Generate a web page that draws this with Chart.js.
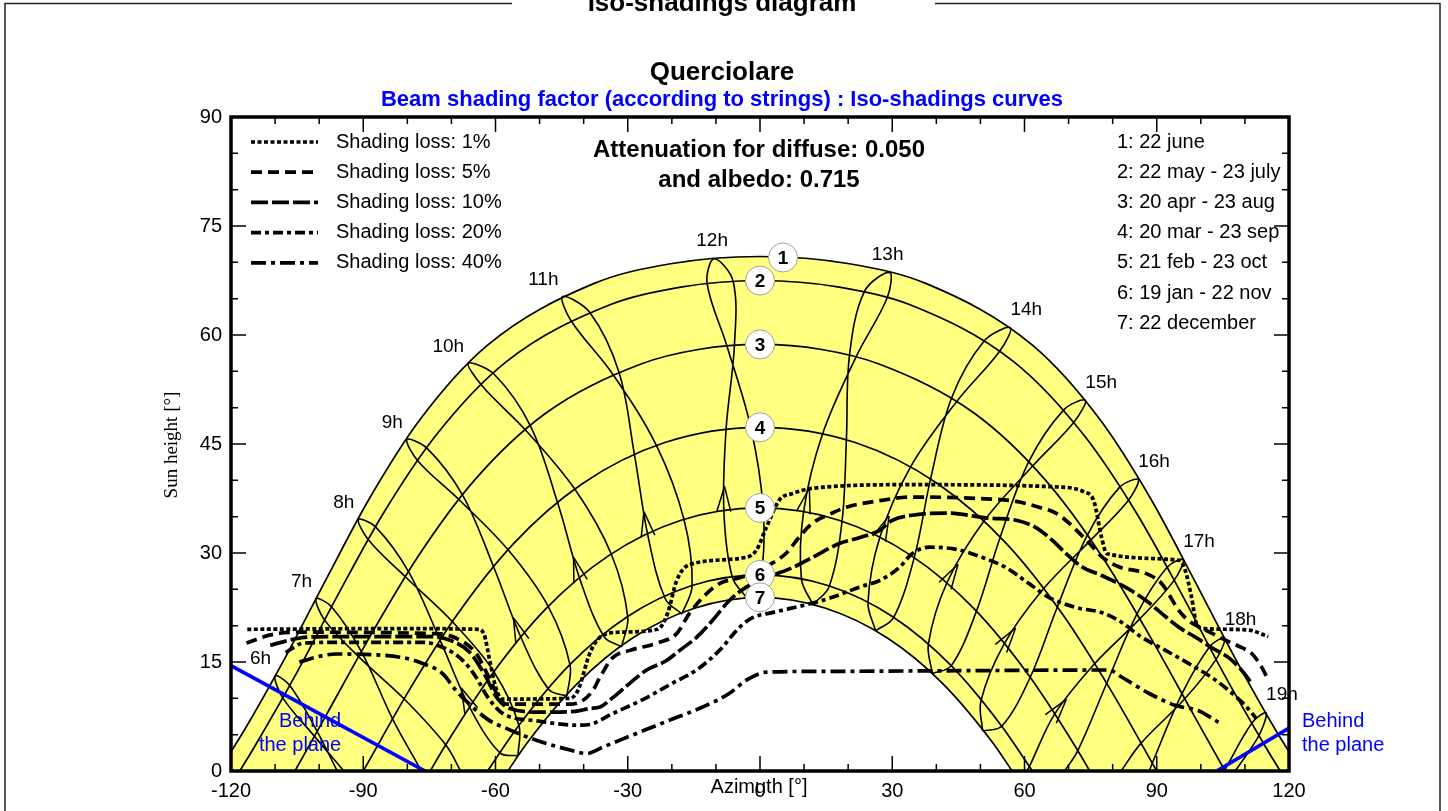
<!DOCTYPE html>
<html>
<head>
<meta charset="utf-8">
<title>Iso-shadings diagram</title>
<script src="https://cdn.jsdelivr.net/npm/chart.js@4.4.1/dist/chart.umd.min.js"></script>
<style>
  html, body { margin: 0; padding: 0; background: #ffffff; }
  canvas { display: block; }
</style>
</head>
<body>
<canvas id="chart" width="1448" height="811"></canvas>
<script>
// ---- Sun paths for the reference dates: [azimuth °, sun height °] ----
const sunJun22 = [[-122.8,0],[-117.1,5.5],[-107.7,15.6],[-98.4,26.4],[-88.7,37.4],[-77.2,48.3],[-61.8,58.6],[-37.6,67.1],[-20.3,69.8],[0,70.8],[20.3,69.8],[37.6,67.1],[61.8,58.6],[77.2,48.3],[88.7,37.4],[98.4,26.4],[107.7,15.6],[117.1,5.5],[122.8,0]];
const sunMay22Jul23 = [[-118.0,0],[-114.8,3.2],[-105.1,13.5],[-95.6,24.4],[-85.5,35.4],[-73.5,46.2],[-57.6,56.3],[-33.9,64.2],[-18.0,66.6],[0,67.5],[18.0,66.6],[33.9,64.2],[57.6,56.3],[73.5,46.2],[85.5,35.4],[95.6,24.4],[105.1,13.5],[114.8,3.2],[118.0,0]];
const sunApr20Aug23 = [[-105.5,0],[-98.4,7.7],[-88.3,18.7],[-77.5,29.6],[-64.8,40.0],[-48.7,49.2],[-27.0,56.0],[-14.0,58.0],[0,58.7],[14.0,58.0],[27.0,56.0],[48.7,49.2],[64.8,40.0],[77.5,29.6],[88.3,18.7],[98.4,7.7],[105.5,0]];
const sunMar20Sep23 = [[-90.0,0],[-79.7,11.0],[-68.6,21.6],[-55.9,31.3],[-40.4,39.5],[-21.6,45.2],[0,47.3],[21.6,45.2],[40.4,39.5],[55.9,31.3],[68.6,21.6],[79.7,11.0],[90.0,0]];
const sunFeb21Oct23 = [[-74.8,0],[-71.7,3.2],[-60.8,13.3],[-48.6,22.3],[-34.4,29.6],[-17.9,34.5],[0,36.2],[17.9,34.5],[34.4,29.6],[48.6,22.3],[60.8,13.3],[71.7,3.2],[74.8,0]];
const sunJan19Nov22 = [[-61.8,0],[-54.8,6.2],[-43.2,14.6],[-30.2,21.2],[-15.6,25.5],[0,27.0],[15.6,25.5],[30.2,21.2],[43.2,14.6],[54.8,6.2],[61.8,0]];
const sunDec22 = [[-57.2,0],[-52.8,3.9],[-41.5,12.0],[-28.9,18.3],[-14.9,22.4],[0,23.9],[14.9,22.4],[28.9,18.3],[41.5,12.0],[52.8,3.9],[57.2,0]];

// ---- Legal-time hour lines, following the year (winter -> summer -> winter) ----
const hour06 = [[-95.9,0],[-100.5,5.5],[-106.7,11.8],[-110.0,13.1],[-108.3,10.1],[-101.1,4.8],[-94.4,0]];
const hour07 = [[-76.8,0],[-83.3,7.1],[-90.4,16.4],[-97.2,22.6],[-100.7,23.7],[-98.8,20.8],[-91.0,15.7],[-80.7,9.9],[-71.3,3.6],[-67.9,0]];
const hour08 = [[-54.9,2.1],[-59.0,2.5],[-65.8,8.7],[-72.5,17.9],[-79.7,27.4],[-87.2,33.6],[-91.1,34.6],[-88.8,31.8],[-80.4,26.7],[-69.7,20.5],[-60.4,13.7],[-54.7,6.3],[-54.9,2.1]];
const hour09 = [[-43.8,10.3],[-47.9,11.2],[-54.1,18.2],[-60.3,27.9],[-67.4,37.9],[-75.5,44.4],[-80.1,45.6],[-77.5,42.6],[-68.2,37.3],[-57.1,30.4],[-48.0,22.6],[-43.1,14.6],[-43.8,10.3]];
const hour10 = [[-31.4,17.1],[-35.4,18.5],[-40.8,26.3],[-45.8,36.7],[-52.0,47.4],[-60.3,54.6],[-66.2,56.1],[-62.9,52.9],[-53.0,46.8],[-41.9,38.7],[-33.7,29.8],[-30.0,21.2],[-31.4,17.1]];
const hour11 = [[-17.7,21.6],[-21.5,23.7],[-25.4,32.3],[-28.5,43.6],[-32.0,54.9],[-38.6,63.1],[-44.8,65.3],[-42.9,62.0],[-33.4,54.6],[-23.5,44.8],[-17.2,34.5],[-15.4,25.5],[-17.7,21.6]];
const hour12 = [[-3.0,23.8],[-6.3,26.7],[-8.2,35.8],[-7.7,47.0],[-5.8,58.6],[-6.1,67.4],[-10.4,70.5],[-12.0,67.1],[-7.5,58.5],[-2.1,47.3],[0.7,36.2],[0.2,27.0],[-3.0,23.8]];
const hour13 = [[12.0,22.9],[9.4,26.4],[9.9,35.7],[14.2,46.4],[21.8,57.0],[28.9,65.2],[29.4,68.6],[23.7,66.0],[20.3,57.2],[19.6,45.6],[18.6,34.3],[15.7,25.4],[12.0,22.9]];
const hour14 = [[26.2,19.3],[24.5,23.2],[27.2,32.2],[34.2,41.9],[44.7,50.9],[54.4,57.8],[56.8,61.0],[50.9,59.2],[43.5,51.4],[38.7,40.2],[35.0,29.4],[30.3,21.1],[26.2,19.3]];
const hour15 = [[39.1,13.4],[38.2,17.5],[42.4,25.9],[50.8,34.4],[61.9,42.0],[71.2,48.0],[73.8,51.0],[68.9,49.7],[61.0,42.6],[54.5,32.2],[49.1,22.0],[43.4,14.5],[39.1,13.4]];
const hour16 = [[50.5,5.5],[50.1,9.6],[55.3,17.4],[64.2,25.0],[74.9,31.7],[83.5,37.2],[85.8,40.1],[81.5,39.0],[74.2,32.4],[67.4,22.5],[61.3,12.9],[54.9,6.2],[50.5,5.5]];
const hour17 = [[60.5,0],[61.1,0.6],[66.8,7.8],[75.8,14.7],[86.1,20.9],[93.9,26.2],[96.0,29.1],[92.3,28.0],[85.5,21.6],[78.6,12.0],[72.1,2.8],[69.1,0]];
const hour18 = [[81.9,0],[86.4,3.8],[96.3,9.9],[103.5,15.4],[105.4,18.3],[102.0,17.1],[95.7,10.6],[89.0,1.1],[88.3,0]];
const hour19 = [[107.8,0],[113.2,4.9],[114.8,8.0],[111.6,6.6],[105.3,0]];

// ---- Iso-shading curves (beam shading loss) ----
const loss1 = [[-116.3,19.5],[-81.6,19.6],[-64.0,19.5],[-62.6,18.8],[-61.3,15.2],[-59.9,11.4],[-58.5,9.9],[-43.1,10.0],[-41.3,11.1],[-38.6,16.2],[-36.3,18.4],[-31.8,19.1],[-23.2,19.5],[-20.9,21.8],[-18.9,26.2],[-16.0,28.4],[-3.1,29.4],[-0.8,30.4],[1.5,33.6],[4.4,37.3],[7.4,38.2],[11.9,38.9],[33.8,39.4],[67.1,39.1],[73.5,38.4],[75.7,37.2],[77.5,32.1],[78.7,29.9],[95.0,29.0],[96.3,27.9],[97.9,23.9],[99.1,20.1],[100.6,19.6],[110.8,19.4],[115.3,18.5]];
const loss5 = [[-116.5,17.6],[-111.3,18.7],[-105.8,19.1],[-73.5,18.9],[-69.0,18.3],[-64.4,16.2],[-61.5,12.9],[-59.2,10.1],[-57.6,9.2],[-43.1,9.2],[-40.2,9.7],[-37.9,11.1],[-36.3,12.9],[-33.4,15.6],[-29.5,16.6],[-23.4,17.6],[-18.9,18.9],[-16.0,21.7],[-12.1,24.4],[-9.2,25.8],[-4.6,26.6],[-0.1,27.6],[2.8,28.6],[6.0,30.0],[8.9,32.2],[11.9,34.1],[16.4,35.5],[19.6,36.3],[27.1,37.2],[34.5,37.7],[49.7,37.5],[58.1,37.1],[63.3,36.3],[67.1,35.5],[70.1,34.1],[74.6,31.4],[77.5,29.5],[81.4,28.1],[87.5,27.2],[91.1,25.8],[95.0,22.1],[97.2,20.7],[101.1,19.4],[105.6,18.0],[109.2,17.0],[111.5,16.2],[113.8,14.3],[115.3,12.5]];
const loss10 = [[-111.1,17.3],[-104.3,18.3],[-97.5,18.5],[-74.8,18.5],[-70.3,18.0],[-65.8,16.3],[-62.4,13.2],[-59.7,10.1],[-56.7,8.6],[-49.9,8.1],[-42.0,8.2],[-38.6,8.6],[-36.3,8.8],[-33.4,10.1],[-29.5,12.1],[-25.7,13.9],[-21.2,15.2],[-18.2,16.6],[-14.4,18.4],[-10.8,20.7],[-6.9,23.5],[-3.1,25.3],[1.5,26.6],[7.4,28.0],[11.9,29.4],[18.0,31.3],[22.5,32.1],[27.1,33.1],[30.0,34.5],[34.5,35.2],[42.2,35.5],[51.9,34.8],[58.1,34.5],[62.6,33.5],[66.2,31.8],[69.3,30.0],[73.0,28.1],[77.5,26.9],[82.9,25.3],[87.5,23.5],[91.1,21.7],[95.0,19.8],[98.8,18.4],[102.4,17.0],[106.3,15.6],[109.2,13.9],[111.5,12.1]];
const loss20 = [[-107.6,16.3],[-103.6,17.6],[-96.1,17.7],[-76.4,17.7],[-71.9,17.0],[-67.4,15.2],[-64.4,12.9],[-61.7,10.1],[-58.3,7.9],[-50.6,6.9],[-40.9,6.3],[-38.6,6.4],[-33.4,7.9],[-25.7,10.1],[-19.8,12.1],[-14.4,13.9],[-9.2,16.6],[-4.6,19.8],[-1.7,21.1],[2.8,21.8],[11.9,23.1],[16.4,23.9],[22.5,25.3],[27.1,26.2],[31.6,28.0],[34.5,29.9],[38.4,30.8],[44.5,30.5],[50.4,29.4],[55.8,28.0],[61.0,25.8],[65.5,23.9],[71.7,22.5],[77.5,21.8],[81.4,20.7],[86.6,18.4],[92.0,16.6],[97.2,14.8],[102.4,12.9],[106.3,11.1],[110.1,9.0],[112.6,7.2]];
const loss40 = [[-104.5,15.0],[-99.0,15.9],[-96.1,16.1],[-81.0,15.6],[-76.5,14.8],[-72.0,13.4],[-69.0,11.1],[-66.1,9.3],[-61.5,7.0],[-57.7,5.9],[-50.6,4.2],[-43.1,2.9],[-39.3,2.4],[-35.6,3.3],[-27.9,5.2],[-20.5,7.0],[-13.0,8.8],[-6.9,10.7],[-3.1,12.5],[1.5,13.6],[11.9,13.7],[45.0,13.8],[79.1,13.9],[82.1,12.9],[88.2,10.7],[94.3,9.0],[99.5,8.3],[104.0,6.7]];

// ---- Limits of the plane ----
const behindLeft = [[-120,14.5],[-76.0,0]];
const behindRight = [[103.6,0],[120,5.9]];

// ---- Texts ----
const lossLabels = ['Shading loss: 1%','Shading loss: 5%','Shading loss: 10%','Shading loss: 20%','Shading loss: 40%'];
const dateLabels = ['1: 22 june','2: 22 may - 23 july','3: 20 apr - 23 aug','4: 20 mar - 23 sep','5: 21 feb - 23 oct','6: 19 jan - 22 nov','7: 22 december'];
const dateNumbers = ['1','2','3','4','5','6','7'];
const hourNames = ['6h','7h','8h','9h','10h','11h','12h','13h','14h','15h','16h','17h','18h','19h'];

const datePaths = [sunJun22, sunMay22Jul23, sunApr20Aug23, sunMar20Sep23, sunFeb21Oct23, sunJan19Nov22, sunDec22];
const hourLoops = [hour06, hour07, hour08, hour09, hour10, hour11, hour12, hour13, hour14, hour15, hour16, hour17, hour18, hour19];
const lossCurves = [loss1, loss5, loss10, loss20, loss40];

// styles
const FONT = '"Liberation Sans", Arial, Helvetica, sans-serif';
const SERIF = '"Liberation Serif", "Times New Roman", serif';
const YELLOW = '#ffff80';
const BLUE = '#0000ff';
const lossDash = [[4,2.5],[11,6],[17,4],[10,4,4,4],[15,5,4,5]];
const arrowSegment = [null,null,2,2,2,2,2,2,2,2,2,2,null,null];

const xy = arr => arr.map(([x, y]) => ({ x, y }));
const datasets = [];

// yellow band: area under the 22 june path, the area under 22 december is white again
datasets.push({ data: xy(sunJun22), showLine: true, fill: 'origin', backgroundColor: YELLOW,
  borderWidth: 0, pointRadius: 0, cubicInterpolationMode: 'monotone', order: 10 });
datasets.push({ data: xy(sunDec22), showLine: true, fill: 'origin', backgroundColor: '#ffffff',
  borderWidth: 0, pointRadius: 0, cubicInterpolationMode: 'monotone', order: 9 });

datePaths.forEach(p => datasets.push({ data: xy(p), showLine: true, borderColor: '#000', borderWidth: 1.7,
  pointRadius: 0, cubicInterpolationMode: 'monotone', fill: false, order: 5 }));

hourLoops.forEach(p => datasets.push({ data: xy(p), showLine: true, borderColor: '#000', borderWidth: 1.6,
  pointRadius: 0, tension: 0.35, fill: false, order: 5 }));

lossCurves.forEach((p, i) => datasets.push({ data: xy(p), showLine: true, borderColor: '#000', borderWidth: 3.7,
  borderDash: lossDash[i], pointRadius: 0, cubicInterpolationMode: 'monotone', fill: false, order: 3 }));

[behindLeft, behindRight].forEach(p => datasets.push({ data: xy(p), showLine: true, borderColor: BLUE,
  borderWidth: 3.6, pointRadius: 0, fill: false, order: 2 }));

function txt(ctx, s, x, y, font, color, align, base) {
  ctx.font = font; ctx.fillStyle = color || '#000';
  ctx.textAlign = align || 'center'; ctx.textBaseline = base || 'middle';
  ctx.fillText(s, x, y);
}

const decor = {
  id: 'decor',
  afterDatasetsDraw(chart) {
    const { ctx, chartArea: a, scales: { x, y } } = chart;
    const px = v => x.getPixelForValue(v), py = v => y.getPixelForValue(v);
    ctx.save();

    // direction arrows on the hour lines
    ctx.strokeStyle = '#000'; ctx.lineWidth = 1.5; ctx.setLineDash([]);
    hourLoops.forEach((loop, i) => {
      const s = arrowSegment[i];
      if (s === null) return;
      const x0 = px(loop[s][0]), y0 = py(loop[s][1]);
      const x1 = px(loop[s + 1][0]), y1 = py(loop[s + 1][1]);
      const tx = x0 + 0.3 * (x1 - x0), ty = y0 + 0.3 * (y1 - y0);
      const ang = Math.atan2(y1 - y0, x1 - x0);
      ctx.beginPath();
      [-0.27, 0.27].forEach(d => {
        ctx.moveTo(tx, ty);
        ctx.lineTo(tx - 26 * Math.cos(ang + d), ty - 26 * Math.sin(ang + d));
      });
      ctx.stroke();
    });

    // hour names next to the summer end of each hour line
    hourLoops.forEach((loop, i) => {
      const top = loop.reduce((m, p) => (p[1] > m[1] ? p : m));
      const X = px(top[0]), Y = py(top[1]);
      if (top[0] < -30) txt(ctx, hourNames[i], X - 4, Y - 17, '19px ' + FONT, '#000', 'right');
      else if (top[0] > 35) txt(ctx, hourNames[i], X, Y - 18, '19px ' + FONT, '#000', 'left');
      else txt(ctx, hourNames[i], X - 2, Y - 18, '19px ' + FONT, '#000', 'center');
    });

    // date numbers in circles at the south crossing
    datePaths.forEach((p, i) => {
      const south = p.find(q => q[0] === 0);
      const X = px(0) + (i === 0 ? 23 : 0), Y = py(south[1]) + (i === 0 ? 1 : 0);
      ctx.beginPath(); ctx.arc(X, Y, 14.5, 0, Math.PI * 2);
      ctx.fillStyle = '#fff'; ctx.fill();
      ctx.strokeStyle = '#a0a0a0'; ctx.lineWidth = 1; ctx.stroke();
      txt(ctx, dateNumbers[i], X, Y + 1, 'bold 19px ' + FONT, '#000');
    });

    // "Behind the plane"
    txt(ctx, 'Behind', px(-95), py(6.8), '20px ' + FONT, BLUE, 'right');
    txt(ctx, 'the plane', px(-95), py(3.5), '20px ' + FONT, BLUE, 'right');
    txt(ctx, 'Behind', a.right + 13, py(6.8), '20px ' + FONT, BLUE, 'left');
    txt(ctx, 'the plane', a.right + 13, py(3.5), '20px ' + FONT, BLUE, 'left');

    // axis frame and inner tick marks
    ctx.strokeStyle = '#000'; ctx.lineWidth = 1.5;
    ctx.beginPath();
    for (let v = -120; v <= 120; v += 10) {
      const X = px(v), L = v % 30 === 0 ? 15 : 7;
      ctx.moveTo(X, a.bottom); ctx.lineTo(X, a.bottom - L);
      ctx.moveTo(X, a.top); ctx.lineTo(X, a.top + L);
    }
    for (let v = 0; v <= 90; v += 5) {
      const Y = py(v), L = v % 15 === 0 ? 15 : 7;
      ctx.moveTo(a.left, Y); ctx.lineTo(a.left + L, Y);
      ctx.moveTo(a.right, Y); ctx.lineTo(a.right - L, Y);
    }
    ctx.stroke();
    ctx.lineWidth = 3.5;
    ctx.strokeRect(a.left, a.top, a.right - a.left, a.bottom - a.top);

    // legend of the iso-shading curves
    lossLabels.forEach((s, i) => {
      const Y = 142 + i * 30.2;
      ctx.beginPath(); ctx.setLineDash(lossDash[i]); ctx.lineWidth = 3.7;
      ctx.moveTo(251, Y); ctx.lineTo(318, Y); ctx.stroke();
      ctx.setLineDash([]);
      txt(ctx, s, 336, Y, '20px ' + FONT, '#000', 'left');
    });
    // legend of the dates
    dateLabels.forEach((s, i) => txt(ctx, s, 1117, 142 + i * 30.2, '20px ' + FONT, '#000', 'left'));

    txt(ctx, 'Attenuation for diffuse: 0.050', 759, 150, 'bold 24px ' + FONT, '#000');
    txt(ctx, 'and albedo: 0.715', 759, 180, 'bold 24px ' + FONT, '#000');
    ctx.restore();
  },
  afterDraw(chart) {
    const { ctx } = chart;
    ctx.save();
    // page frame interrupted by the page title
    ctx.strokeStyle = '#222'; ctx.lineWidth = 1.5;
    ctx.beginPath();
    ctx.moveTo(5, 811); ctx.lineTo(5, 3.5); ctx.lineTo(512, 3.5);
    ctx.moveTo(935, 3.5); ctx.lineTo(1440, 3.5); ctx.lineTo(1440, 811);
    ctx.stroke();
    txt(ctx, 'Iso-shadings diagram', 722, 11, 'bold 26px ' + FONT, '#000', 'center', 'alphabetic');
    txt(ctx, 'Querciolare', 722, 73, 'bold 26px ' + FONT, '#000');
    txt(ctx, 'Beam shading factor (according to strings) : Iso-shadings curves', 722, 100, 'bold 22px ' + FONT, BLUE);
    // axis titles
    txt(ctx, 'Azimuth [°]', 759, 787, '20px ' + FONT, '#000');
    ctx.translate(172, 445); ctx.rotate(-Math.PI / 2);
    txt(ctx, 'Sun height [°]', 0, 0, '19px ' + SERIF, '#000');
    ctx.restore();
  }
};

new Chart(document.getElementById('chart'), {
  type: 'scatter',
  data: { datasets },
  options: {
    responsive: false,
    animation: false,
    devicePixelRatio: 1,
    events: [],
    layout: { padding: { left: 140, right: 159, top: 117, bottom: 0 } },
    plugins: { legend: { display: false }, tooltip: { enabled: false }, title: { display: false } },
    scales: {
      x: {
        type: 'linear', min: -120, max: 120,
        grid: { display: false, drawTicks: false }, border: { display: false },
        ticks: { stepSize: 30, padding: 8, color: '#000', maxRotation: 0, font: { family: FONT, size: 20 } },
        afterFit: s => { s.height = 40; }
      },
      y: {
        type: 'linear', min: 0, max: 90,
        grid: { display: false, drawTicks: false }, border: { display: false },
        ticks: { stepSize: 15, padding: 9, color: '#000', font: { family: FONT, size: 20 } },
        afterFit: s => { s.width = 91; }
      }
    }
  },
  plugins: [decor]
});
</script>
</body>
</html>
